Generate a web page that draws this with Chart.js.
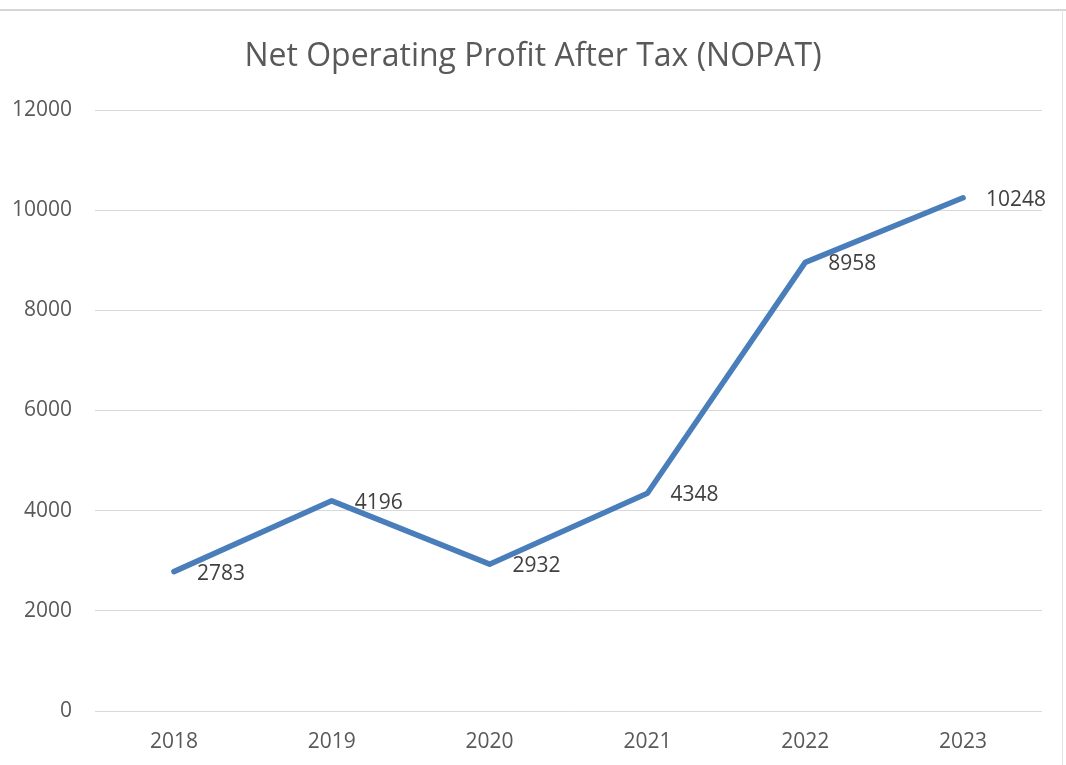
<!DOCTYPE html>
<html>
<head>
<meta charset="utf-8">
<script src="https://cdn.jsdelivr.net/npm/chart.js@4"></script>
<style>
    html, body { margin: 0; padding: 0; background: #fff; }
    #wrap { position: relative; width: 1066px; height: 765px; }
    #topLine { position: absolute; left: 0; top: 9px; width: 1066px; height: 2px; background: #d6d6d6; }
    #rightLine { position: absolute; left: 1062px; top: 10px; width: 1px; height: 755px; background: #e4e4e4; }
</style>
</head>
<body>
<div id="wrap">
    <canvas id="chart" width="1066" height="765"></canvas>
    <div id="topLine"></div>
    <div id="rightLine"></div>
</div>
<script>
// data
var years = ['2018', '2019', '2020', '2021', '2022', '2023'];
var nopat = [2783, 4196, 2932, 4348, 8958, 10248];
var yTicks = [0, 2000, 4000, 6000, 8000, 10000, 12000];
var chartTitle = 'Net Operating Profit After Tax (NOPAT)';

var FONT = "'Open Sans', 'DejaVu Sans', sans-serif";

// value labels right of each point, title centred on the whole canvas
var extras = {
    id: 'extras',
    afterDatasetsDraw: function (chart) {
        var ctx = chart.ctx;
        var meta = chart.getDatasetMeta(0);
        ctx.save();
        ctx.font = '21px ' + FONT;
        ctx.fillStyle = '#404040';
        ctx.textAlign = 'left';
        ctx.textBaseline = 'middle';
        meta.data.forEach(function (pt, i) {
            ctx.fillText(String(nopat[i]), pt.x + 23, pt.y + 2);
        });

        ctx.font = '32px ' + FONT;
        ctx.fillStyle = '#595959';
        ctx.textAlign = 'center';
        ctx.fillText(chartTitle, chart.width / 2, 57);
        ctx.restore();
    }
};

Chart.defaults.font.family = FONT;

new Chart(document.getElementById('chart'), {
    type: 'line',
    data: {
        labels: years,
        datasets: [{
            data: nopat,
            borderColor: '#4A7EBB',
            borderWidth: 5.5,
            borderCapStyle: 'round',
            borderJoinStyle: 'round',
            pointRadius: 0,
            pointHoverRadius: 0,
            tension: 0,
            fill: false
        }]
    },
    options: {
        responsive: false,
        animation: false,
        layout: { padding: { left: 0, right: 24, top: 110, bottom: 0 } },
        plugins: {
            legend: { display: false },
            tooltip: { enabled: false },
            title: { display: false }
        },
        scales: {
            x: {
                offset: true,
                grid: { display: false, drawTicks: false },
                border: { display: false },
                ticks: { color: '#595959', font: { size: 21 }, padding: 18 },
                afterFit: function (scale) { scale.height = 54; }
            },
            y: {
                min: 0,
                max: 12000,
                afterBuildTicks: function (scale) {
                    scale.ticks = yTicks.map(function (v) { return { value: v }; });
                },
                grid: { color: '#d9d9d9', lineWidth: 1, drawTicks: false },
                border: { display: false },
                ticks: {
                    color: '#595959',
                    font: { size: 21 },
                    padding: 23,
                    callback: function (v) { return String(v); }
                },
                afterFit: function (scale) { scale.width = 95; }
            }
        }
    },
    plugins: [extras]
});
</script>
</body>
</html>
